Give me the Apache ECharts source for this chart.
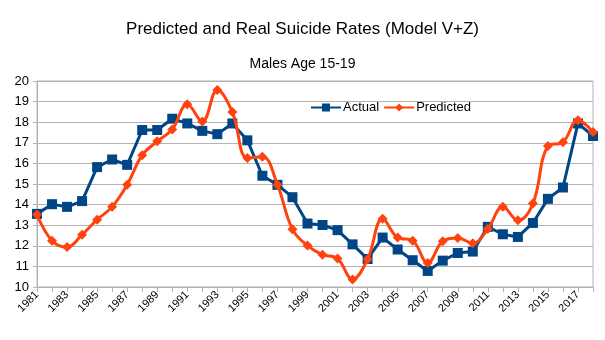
<!DOCTYPE html>
<html><head><meta charset="utf-8">
<script src="https://cdn.jsdelivr.net/npm/echarts@6/dist/echarts.min.js"></script>
<style>html,body{margin:0;padding:0;background:#fff}#c{width:605px;height:340px}</style>
</head><body><div id="c"></div>
<script>
const years = [];
for (let y = 1981; y <= 2018; y++) years.push(String(y));
const actual = [13.55,14.02,13.89,14.17,15.82,16.19,15.93,17.62,17.62,18.17,17.94,17.58,
  17.42,17.94,17.12,15.40,14.96,14.36,13.08,13.01,12.76,12.07,11.36,12.40,11.82,
  11.30,10.78,11.28,11.65,11.72,12.92,12.56,12.43,13.11,14.28,14.83,17.94,17.33];
const predicted = [13.52,12.25,11.94,12.54,13.27,13.89,14.96,16.40,17.07,17.65,18.87,18.04,
  19.56,18.49,16.26,16.32,14.96,12.80,12.01,11.57,11.38,10.37,11.35,13.31,12.40,
  12.25,11.17,12.22,12.38,12.12,12.82,13.89,13.24,14.05,16.84,17.03,18.10,17.52];
const titleText = 'Predicted and Real Suicide Rates (Model V+Z)';
const subtitleText = 'Males Age 15-19';
const yMin = 10, yMax = 20, yStep = 1;

const chart = echarts.init(document.getElementById('c'), null, {renderer: 'canvas'});
const font = '"Liberation Sans", Arial, sans-serif';
chart.setOption({
  animation: false,
  backgroundColor: '#fff',
  title: [
    {text: titleText, left: 'center', top: 16, textStyle: {fontFamily: font, fontSize: 17, fontWeight: 'normal', color: '#000'}},
    {text: subtitleText, left: 'center', top: 52, textStyle: {fontFamily: font, fontSize: 14, fontWeight: 'normal', color: '#000'}}
  ],
  legend: {
    left: 305, top: 96, itemGap: 4, itemWidth: 30, itemHeight: 10,
    textStyle: {fontFamily: font, fontSize: 13, color: '#000', padding: [0, 0, 0, -3]},
    data: ['Actual', 'Predicted']
  },
  grid: {left: 37, right: 12, top: 81, bottom: 53, show: true, borderColor: '#b3b3b3', borderWidth: 1},
  xAxis: {
    type: 'category', data: years, boundaryGap: false,
    axisLine: {lineStyle: {color: '#b3b3b3'}},
    axisTick: {show: true, interval: 0, length: 5, lineStyle: {color: '#b3b3b3'}},
    axisLabel: {interval: 1, rotate: 45, fontFamily: font, fontSize: 11, color: '#000', margin: 6},
    splitLine: {show: false}
  },
  yAxis: {
    type: 'value', min: yMin, max: yMax, interval: yStep,
    axisLine: {show: true, lineStyle: {color: '#b3b3b3'}},
    axisTick: {show: true, length: 4, lineStyle: {color: '#b3b3b3'}},
    axisLabel: {fontFamily: font, fontSize: 13, color: '#000', margin: 8},
    splitLine: {lineStyle: {color: '#b3b3b3'}}
  },
  series: [
    {name: 'Actual', type: 'line', data: actual, symbol: 'rect', symbolSize: 10, showAllSymbol: true,
     lineStyle: {width: 3, color: '#004586'}, itemStyle: {color: '#004586'}, z: 2},
    {name: 'Predicted', type: 'line', data: predicted, smooth: 0.4, symbol: 'diamond', symbolSize: 10, showAllSymbol: true,
     lineStyle: {width: 3, color: '#ff420e'}, itemStyle: {color: '#ff420e'}, z: 3}
  ]
});
</script></body></html>
